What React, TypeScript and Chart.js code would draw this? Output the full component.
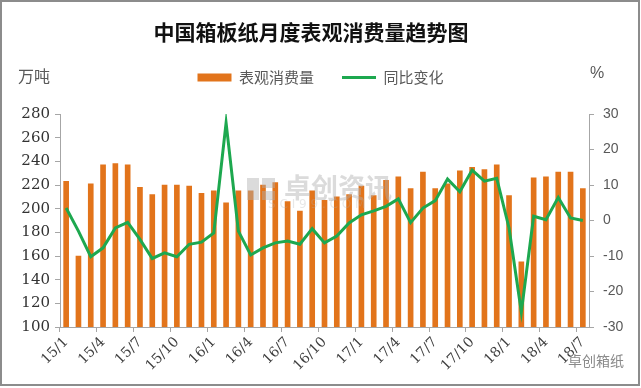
import { useEffect, useRef } from 'react';
import { Chart, registerables, layouts } from 'chart.js';

Chart.register(...registerables);

const TITLE = '中国箱板纸月度表观消费量趋势图';
const LEFT_UNIT = '万吨';
const RIGHT_UNIT = '%';
const BAR_NAME = '表观消费量';
const LINE_NAME = '同比变化';

const months = [
  '15/1', '15/2', '15/3', '15/4', '15/5', '15/6', '15/7', '15/8', '15/9', '15/10', '15/11', '15/12',
  '16/1', '16/2', '16/3', '16/4', '16/5', '16/6', '16/7', '16/8', '16/9', '16/10', '16/11', '16/12',
  '17/1', '17/2', '17/3', '17/4', '17/5', '17/6', '17/7', '17/8', '17/9', '17/10', '17/11', '17/12',
  '18/1', '18/2', '18/3', '18/4', '18/5', '18/6', '18/7',
];

const consumption = [
  223, 160, 221, 237, 238, 237, 218, 212, 220, 220, 219, 213,
  215, 205, 215, 215, 220, 222, 206, 198, 215, 207, 210, 212,
  219, 211, 224, 227, 217, 231, 217, 221, 232, 235, 233, 237,
  211, 155, 226, 227, 231, 231, 217,
];

const yoyChange = [
  3.5, -3.0, -10.2, -7.7, -2.1, -0.5, -5.3, -10.7, -9.1, -10.2, -6.7, -6.1,
  -3.5, 27.5, -3.0, -9.7, -7.7, -6.3, -5.8, -6.7, -2.3, -6.3, -4.4, -0.7,
  1.6, 2.7, 4.0, 6.1, -0.6, 3.5, 5.6, 11.7, 8.1, 14.2, 11.1, 11.9,
  -2.1, -25.8, 1.2, 0.2, 6.5, 0.7, 0.0,
];

const AXIS_GRAY = '#A6A6A6';
const CJK = '"Noto Sans CJK SC", "Noto Sans", sans-serif';

// empty layout box between the legend and the plot area
const spacerPlugin = {
  id: 'legendSpacer',
  beforeInit(chart: any) {
    const box: any = {
      position: 'top',
      weight: 500,
      fullSize: true,
      options: { stackWeight: 1 },
      left: 0,
      top: 0,
      right: 0,
      bottom: 0,
      width: 0,
      height: 0,
      update(maxWidth: number) {
        this.width = maxWidth;
        this.height = 19;
      },
      isHorizontal() {
        return true;
      },
      draw() {},
    };
    layouts.addBox(chart, box);
  },
};

const decorPlugin = {
  id: 'decor',
  afterDatasetsDraw(chart: any) {
    const { ctx } = chart;
    ctx.save();
    // central watermark
    ctx.fillStyle = 'rgba(175,175,175,0.45)';
    ctx.fillRect(247, 178, 12, 22);
    ctx.fillRect(262, 178, 13, 10);
    ctx.fillRect(262, 191, 13, 9);
    ctx.font = `bold 27px ${CJK}`;
    ctx.textBaseline = 'middle';
    ctx.textAlign = 'left';
    ctx.fillText('卓创资讯', 284, 188);
    ctx.fillStyle = 'rgba(175,175,175,0.3)';
    ctx.font = '12px "DejaVu Sans", sans-serif';
    ctx.fillText('S C I 9 9 . C O M', 268, 205);
    ctx.restore();
  },
  afterDraw(chart: any) {
    const { ctx } = chart;
    ctx.save();
    ctx.textBaseline = 'middle';
    // title
    ctx.fillStyle = '#111111';
    ctx.font = `bold 21px ${CJK}`;
    ctx.textAlign = 'center';
    ctx.fillText(TITLE, 311, 32);
    // unit labels
    ctx.fillStyle = '#595959';
    ctx.font = `16px ${CJK}`;
    ctx.textAlign = 'left';
    ctx.fillText(LEFT_UNIT, 18, 76);
    ctx.font = '16px "Liberation Sans", sans-serif';
    ctx.fillText(RIGHT_UNIT, 590, 74);
    // bottom-right watermark
    ctx.font = `14px ${CJK}`;
    ctx.textAlign = 'right';
    ctx.fillStyle = '#8a8a8a';
    ctx.fillText('卓创箱纸', 624, 361);
    // frame
    ctx.strokeStyle = '#8C8C8C';
    ctx.lineWidth = 2;
    ctx.strokeRect(1, 1, 638, 384);
    ctx.restore();
  },
};

export default function App() {
  const ref = useRef<HTMLCanvasElement>(null);

  useEffect(() => {
    document.body.style.margin = '0';
    const canvas = ref.current;
    if (!canvas) return;
    const chart = new Chart(canvas, {
      type: 'bar',
      data: {
        labels: months,
        datasets: [
          {
            type: 'bar',
            label: BAR_NAME,
            data: consumption,
            yAxisID: 'y',
            backgroundColor: '#E2741B',
            borderWidth: 0,
            barThickness: 5,
            order: 1,
            pointStyle: 'rect',
          } as any,
          {
            type: 'line',
            label: LINE_NAME,
            data: yoyChange,
            yAxisID: 'y1',
            borderColor: '#1DA84F',
            backgroundColor: '#1DA84F',
            borderWidth: 3,
            pointRadius: 0,
            tension: 0,
            fill: false,
            order: 0,
            pointStyle: 'line',
          } as any,
        ],
      },
      options: {
        responsive: true,
        maintainAspectRatio: false,
        animation: false,
        layout: { padding: { top: 42, left: 0, right: 0, bottom: 0 } },
        plugins: {
          title: { display: false },
          tooltip: { enabled: false },
          legend: {
            display: true,
            position: 'top',
            labels: {
              usePointStyle: true,
              pointStyleWidth: 34,
              boxHeight: 8,
              padding: 28,
              color: '#595959',
              font: { family: CJK, size: 15 },
              sort: (a: any, b: any) => a.datasetIndex - b.datasetIndex,
            },
          },
        },
        scales: {
          x: {
            offset: true,
            grid: {
              offset: true,
              drawOnChartArea: false,
              drawTicks: true,
              tickLength: 5,
              color: (c: any) => (typeof c.index === 'number' && c.index % 3 === 0 ? AXIS_GRAY : 'rgba(0,0,0,0)'),
            },
            border: { display: true, color: AXIS_GRAY, width: 1 },
            ticks: {
              autoSkip: false,
              maxRotation: 45,
              minRotation: 45,
              padding: 2,
              color: '#404040',
              font: { family: '"DejaVu Serif", serif', size: 14 },
              callback: (_v: any, i: number) => (i % 3 === 0 ? months[i] : ''),
            },
            afterFit: (s: any) => {
              s.height = 61;
            },
          },
          y: {
            position: 'left',
            min: 100,
            max: 280,
            grid: { drawOnChartArea: false, tickLength: 5, color: AXIS_GRAY },
            border: { display: true, color: AXIS_GRAY },
            ticks: {
              stepSize: 20,
              padding: 5,
              color: '#333333',
              font: { family: '"DejaVu Serif", serif', size: 15 },
            },
            afterFit: (s: any) => {
              s.width = 60;
            },
          },
          y1: {
            position: 'right',
            min: -30,
            max: 30,
            grid: { drawOnChartArea: false, tickLength: 5, color: AXIS_GRAY },
            border: { display: true, color: AXIS_GRAY },
            ticks: {
              stepSize: 10,
              padding: 9,
              color: '#595959',
              font: { family: '"Liberation Sans", sans-serif', size: 14 },
            },
            afterFit: (s: any) => {
              s.width = 52;
            },
          },
        },
      },
      plugins: [spacerPlugin, decorPlugin],
    });
    return () => chart.destroy();
  }, []);

  return (
    <div style={{ position: 'relative', width: 641, height: 388 }}>
      <canvas ref={ref} />
    </div>
  );
}
